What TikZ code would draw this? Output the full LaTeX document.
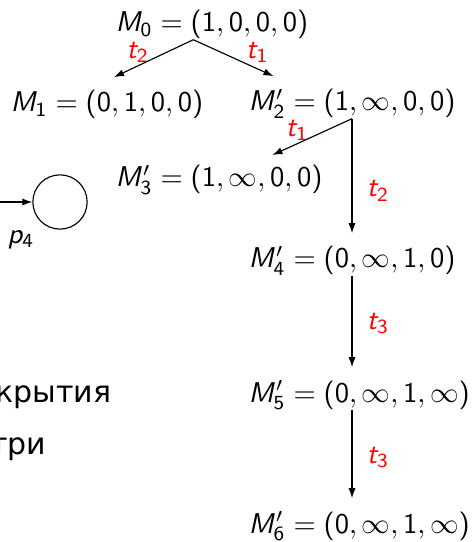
\documentclass[tikz,border=0pt]{standalone}
\usepackage[no-math]{fontspec}
\newfontfamily\cyrfont{DejaVu Sans}
\DeclareSymbolFont{sfitalic}{OT1}{cmss}{m}{sl}
\DeclareMathSymbol{M}{\mathalpha}{sfitalic}{`M}
\DeclareMathSymbol{t}{\mathalpha}{sfitalic}{`t}
\DeclareMathSymbol{p}{\mathalpha}{sfitalic}{`p}
\SetSymbolFont{operators}{normal}{OT1}{cmss}{m}{n}
\usetikzlibrary{arrows.meta}

\begin{document}
\begin{tikzpicture}[x=0.35pt, y=-0.35pt,
  mk/.style={anchor=base west, inner sep=0pt, text height=12pt, text depth=2.5pt},
  tr/.style={text=red, inner sep=1pt},
  arr/.style={-{Latex[length=3.5pt, width=2.5pt]}},
  plc/.style={draw, circle, minimum size=19pt, inner sep=0pt},
  ru/.style={anchor=base east, inner sep=0pt, font=\cyrfont\fontsize{10.5}{12}\selectfont}]
\clip (0,0) rectangle (473,542);
% cut-off slide text and place
\node[ru] (cov) at (112,402) {крытия};
\node[ru] (petri) at (47,454) {три};
\node[plc] (p4) at (60,202) {};
\node[inner sep=0pt] (p4l) at (21,240) {$p_4$};
\coordinate (in) at (-10,202);
\draw[arr] (in) -- (p4);
% coverability tree
\node[mk] (M0) at (115,32)  {$M_0 = (1,0,0,0)$};
\node[mk] (M1) at (10,112)  {$M_1 = (0,1,0,0)$};
\node[mk] (M2) at (248,111) {$M'_2 = (1,\infty,0,0)$};
\node[mk] (M3) at (115,187) {$M'_3 = (1,\infty,0,0)$};
\node[mk] (M4) at (248,268) {$M'_4 = (0,\infty,1,0)$};
\node[mk] (M5) at (248,402) {$M'_5 = (0,\infty,1,\infty)$};
\node[mk] (M6) at (248,533) {$M'_6 = (0,\infty,1,\infty)$};
\draw[arr] ([xshift=-6.5pt]M0.south) -- ([xshift=2.5pt]M1.north) node[tr, pos=0.7, above=0pt] {$t_2$};
\draw[arr] ([xshift=-6.5pt]M0.south) -- ([xshift=-27.5pt]M2.north) node[tr, pos=0.8, above=1pt] {$t_1$};
\draw[arr] (M2.south) -- ([xshift=18.7pt, yshift=-1pt]M3.north) node[tr, pos=0.69, above=0pt] {$t_1$};
\draw[arr] (M2.south) -- (M4.north) node[tr, pos=0.63, right=4pt] {$t_2$};
\draw[arr] (M4.south) -- (M5.north -| M4.south) node[tr, pos=0.52, right=4pt] {$t_3$};
\draw[arr] (M5.south -| M4.south) -- (M6.north -| M4.south) node[tr, pos=0.54, right=4pt] {$t_3$};
\end{tikzpicture}
\end{document}
